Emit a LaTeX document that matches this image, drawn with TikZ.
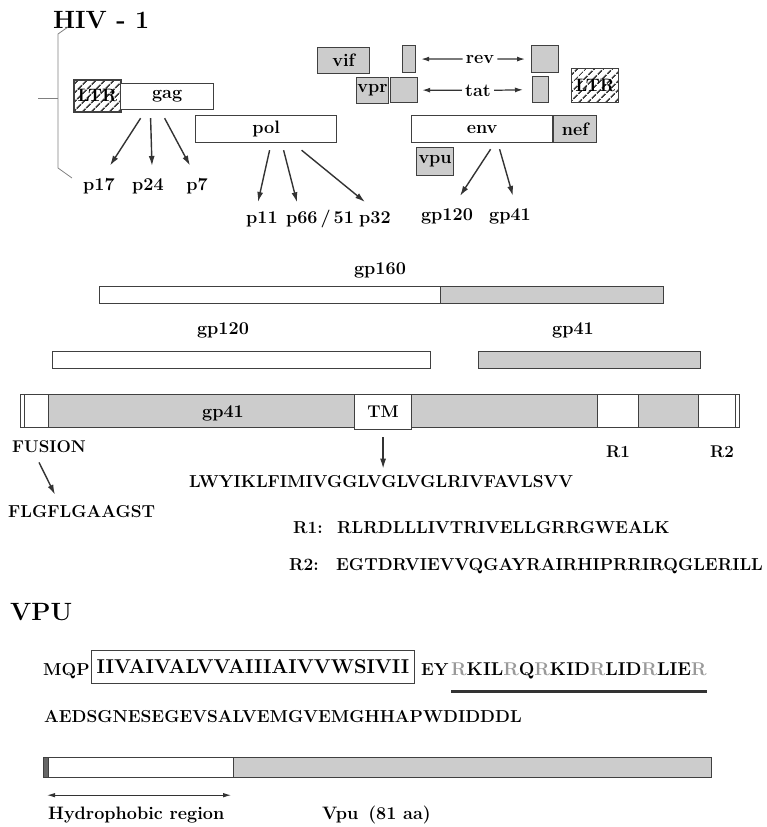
\documentclass[tikz,border=0pt]{standalone}
\usepackage{xcolor}
\usepackage{tikz}
\usetikzlibrary{arrows.meta,positioning,calc,patterns.meta}

\newcommand{\lblfont}{\fontsize{18}{21}\selectfont\bfseries}
\newcommand{\capfont}{\fontsize{17}{20}\selectfont\bfseries}
\newcommand{\seqfont}{\fontsize{17.3}{20}\selectfont\bfseries}
\newcommand{\boxfont}{\fontsize{18}{21}\selectfont\bfseries}
\newcommand{\headfont}{\fontsize{25}{29}\selectfont\bfseries}
\newcommand{\tmfont}{\fontsize{20}{23}\selectfont\bfseries}
\newcommand{\gR}{\textcolor{black!40}{R}}

\begin{document}
\begin{tikzpicture}[
    x=1pt, y=-1pt,
    box/.style={rectangle, draw=black!75, line width=1.2pt, inner sep=0pt, anchor=north west, font=\boxfont},
    gbox/.style={box, fill=black!20},
    wbox/.style={box, fill=white},
    ltrbox/.style={box, pattern={Lines[angle=45,distance=6.5pt,line width=1.8pt]}, pattern color=black!75},
    lbl/.style={font=\lblfont, anchor=base, inner sep=1pt},
    seq/.style={font=\seqfont, anchor=base west, inner sep=0pt},
    arr/.style={draw=black!80, line width=1.4pt, -{Latex[length=10pt,width=6pt]}},
    sarr/.style={draw=black!80, line width=1.2pt, -{Latex[length=8pt,width=5pt]}},
    darr/.style={draw=black!80, line width=1pt, {Latex[length=8pt,width=4.5pt]}-{Latex[length=8pt,width=4.5pt]}},
    brk/.style={draw=black!50, line width=0.8pt}
]
\useasboundingbox (0,0) rectangle (766,827);

% HIV-1 genome
\node[font=\headfont, anchor=base west, inner sep=0pt] (title) at (53,28) {HIV - 1};
\draw[brk] (68,27) -- (58,34) -- (58,168) -- (72,178);
\draw[brk] (38,98) -- (58,98);

\node[ltrbox, minimum width=47pt, minimum height=32pt] (ltrl) at (73,79) {LTR};
\node[wbox, minimum width=93pt, minimum height=26pt] (gag) at (120,83) {gag};
\node[wbox, minimum width=141pt, minimum height=27pt] (pol) at (195,115) {pol};
\node[gbox, minimum width=52pt, minimum height=26pt] (vif) at (317,47) {vif};
\node[gbox, minimum width=32pt, minimum height=26pt] (vpr) at (356,77) {vpr};
\node[gbox, minimum width=27pt, minimum height=25pt] (tat1) at (390,77) {};
\node[gbox, minimum width=13pt, minimum height=27pt] (rev1) at (402,45) {};
\node[gbox, minimum width=27pt, minimum height=27pt] (rev2) at (531,45) {};
\node[gbox, minimum width=16pt, minimum height=26pt] (tat2) at (532,76) {};
\node[ltrbox, minimum width=47pt, minimum height=34pt] (ltrr) at (571,68) {LTR};
\node[wbox, minimum width=141pt, minimum height=27pt] (env) at (411,115) {env};
\node[gbox, minimum width=43pt, minimum height=27pt] (nef) at (553,115) {nef};
\node[gbox, minimum width=37pt, minimum height=28pt] (vpu) at (416,147) {vpu};

\node[lbl] (rev) at (480,63) {rev};
\node[lbl] (tat) at (478,96) {tat};
\draw[sarr, shorten <=2pt, shorten >=5pt] (rev.west) -- (rev1.east);
\draw[sarr, shorten <=2pt, shorten >=6pt] (rev.east) -- (rev2.west);
\draw[sarr, shorten <=2pt, shorten >=4pt] (tat.west) -- (tat1.east);
\draw[sarr, shorten <=2pt, shorten >=9pt] (tat.east) -- (tat2.west);

% cleavage products
\node[lbl] (p17) at (99,190) {p17};
\node[lbl] (p24) at (148,190) {p24};
\node[lbl] (p7) at (197,190) {p7};
\node[lbl] (p11) at (262,223) {p11};
\node[lbl] (p66) at (320,223) {p66\,/\,51};
\node[lbl] (p32) at (375,223) {p32};
\node[lbl] (gp120top) at (447,220) {gp120};
\node[lbl] (gp41top) at (510,220) {gp41};

\draw[arr] ([xshift=-26.5pt,yshift=-8pt]gag.south) -- ([xshift=11pt,yshift=11pt]p17.north);
\draw[arr] ([xshift=-16.5pt,yshift=-8pt]gag.south) -- ([xshift=4pt,yshift=11pt]p24.north);
\draw[arr] ([xshift=-2.5pt,yshift=-8pt]gag.south) -- ([xshift=-7pt,yshift=11pt]p7.north);
\draw[arr] ([xshift=3.5pt,yshift=-7pt]pol.south) -- ([xshift=-4pt,yshift=8pt]p11.north);
\draw[arr] ([xshift=17.5pt,yshift=-7pt]pol.south) -- ([xshift=-23pt,yshift=6pt]p66.north);
\draw[arr] ([xshift=35.5pt,yshift=-7pt]pol.south) -- ([xshift=-10pt,yshift=8pt]p32.north);
\draw[arr] ([xshift=8.5pt,yshift=-6pt]env.south) -- ([xshift=13pt,yshift=11pt]gp120top.north);
\draw[arr] ([xshift=17.5pt,yshift=-6pt]env.south) -- ([xshift=3pt,yshift=11pt]gp41top.north);

% gp160 and its halves
\node[lbl] (gp160lbl) at (380,274) {gp160};
\node[wbox, minimum width=341pt, minimum height=17pt] (gp160a) at (99,286) {};
\node[gbox, minimum width=223pt, minimum height=17pt] (gp160b) at (440,286) {};
\node[lbl] (gp120lbl) at (223,334) {gp120};
\node[wbox, minimum width=378pt, minimum height=17pt] (gp120) at (52,351) {};
\node[lbl] (gp41lbl) at (573,334) {gp41};
\node[gbox, minimum width=222pt, minimum height=17pt] (gp41) at (478,351) {};

% gp41 domains
\node[box, minimum width=719pt, minimum height=33pt] (frame) at (20,394) {};
\node[wbox, minimum width=24pt, minimum height=33pt] (fus) at (23.5,394) {};
\node[gbox, minimum width=306.5pt, minimum height=33pt] (gpa) at (47.5,394) {};
\node[gbox, minimum width=186pt, minimum height=33pt] (gpb) at (411,394) {};
\node[wbox, minimum width=41pt, minimum height=33pt] (r1w) at (597,394) {};
\node[gbox, minimum width=60pt, minimum height=33pt] (gpc) at (638,394) {};
\node[wbox, minimum width=37pt, minimum height=33pt] (r2w) at (698,394) {};
\node[wbox, minimum width=57pt, minimum height=35pt, font=\capfont] (tm) at (354,394) {TM};
\node[lbl] (gp41in) at (223,417) {gp41};

\node[lbl, font=\capfont] (fusion) at (49,452) {FUSION};
\node[lbl, font=\capfont] (r1lbl) at (618,457) {R1};
\node[lbl, font=\capfont] (r2lbl) at (722,457) {R2};
\node[seq] (seqtm) at (189,487) {LWYIKLFIMIVGGLVGLVGLRIVFAVLSVV};
\node[seq] (seqfus) at (8,517) {FLGFLGAAGST};
\node[seq] (r1name) at (293,533) {R1:};
\node[seq] (r1seq) at (337,533) {RLRDLLLIVTRIVELLGRRGWEALK};
\node[seq] (r2name) at (289,570) {R2:};
\node[seq] (r2seq) at (336,570) {EGTDRVIEVVQGAYRAIRHIPRRIRQGLERILL};

\draw[arr] ([yshift=-7pt]tm.south) -- ([yshift=6pt]tm.south |- seqtm.north);
\draw[arr] ([xshift=-10pt,yshift=-9pt]fusion.south) -- ([xshift=6pt,yshift=10pt]fusion.south |- seqfus.north);

% Vpu
\node[font=\headfont, anchor=base west, inner sep=0pt] (vputitle) at (10,620) {VPU};
\node[seq] (mqp) at (43,675) {MQP};
\node[box, line width=1pt, minimum width=323pt, minimum height=33pt, font=\tmfont] (tmseq) at (91,650) {IIVAIVALVVAIIIAIVVWSIVII};
\node[seq] (ey) at (421,675) {EY};
\node[seq, font=\fontsize{18.5}{21}\selectfont\bfseries] (rkseq) at (451,675) {\gR KIL\gR Q\gR KID\gR LID\gR LIE\gR};
\draw[line width=3pt, black!80] ([yshift=-13pt]rkseq.south west) -- ([yshift=-13pt]rkseq.south east);
\node[seq] (aed) at (44,722) {AEDSGNESEGEVSALVEMGVEMGHHAPWDIDDDL};

\node[box, minimum width=668pt, minimum height=20pt] (vpubar) at (43,757) {};
\node[box, fill=black!60, minimum width=5pt, minimum height=20pt] (vpuedge) at (43,757) {};
\node[wbox, minimum width=185pt, minimum height=20pt] (vpuw) at (48,757) {};
\node[gbox, minimum width=478pt, minimum height=20pt] (vpug) at (233,757) {};
\draw[darr] ([xshift=-1pt,yshift=-17pt]vpuw.south west) -- ([xshift=-3pt,yshift=-17pt]vpuw.south east);
\node[lbl, anchor=base west] (hydro) at (47,819) {Hydrophobic region};
\node[lbl, anchor=base west] (vpulen) at (321,819) {Vpu\hspace{10pt}(81 aa)};
\end{tikzpicture}
\end{document}
